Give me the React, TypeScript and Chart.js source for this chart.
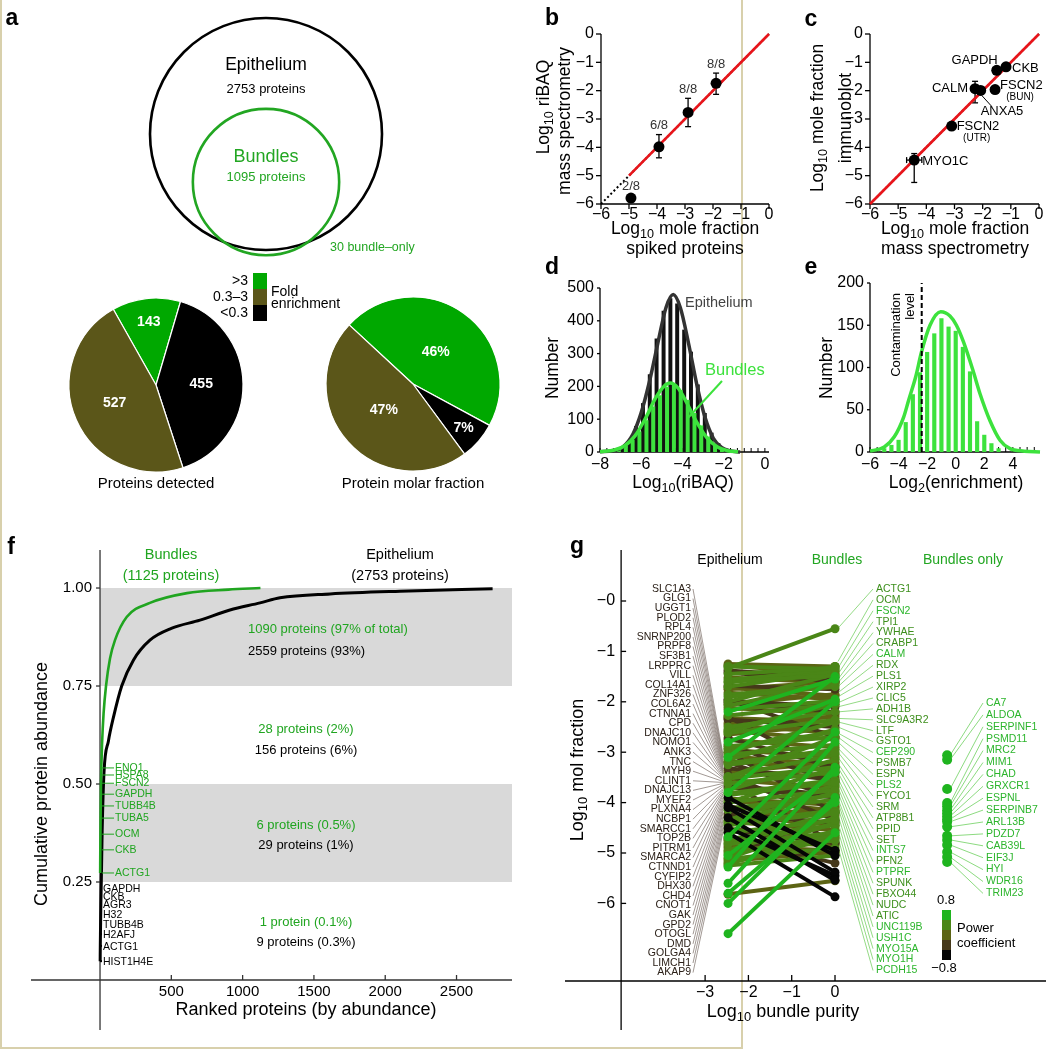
import React, { useEffect, useRef } from "react";
import { Chart, registerables } from "chart.js";
Chart.register(...registerables);

const W = 1046;
const H = 1050;
const FF = '"Liberation Sans", Arial, Helvetica, sans-serif';
const MINUS = "\u2212";

/* ======================= DATA ======================= */
// a — Venn
const vennNames = ["Epithelium", "Bundles"];
const vennCounts = [2753, 1095];
const vennY = [0, -0.414];
const bundleOnly = 30;
// a — pies
const foldCats = [">3", "0.3\u20133", "<0.3"];
const detectedCounts = [143, 527, 455];
const molarPct = [46, 47, 7];
// b
const bX = [-4.93, -3.93, -2.89, -1.89];
const bY = [-5.79, -3.98, -2.77, -1.74];
const bErrHi = [0, 0.43, 0.5, 0.36];
const bErrLo = [0, 0.39, 0.5, 0.39];
const bLabels = ["2/8", "6/8", "8/8", "8/8"];
const bFit = [-5, 0];
const identity = [-6, 0];
// c
const cNames = ["GAPDH", "CKB", "CALM", "ANXA5", "FSCN2", "FSCN2", "MYO1C"];
const cSub = ["", "", "", "", "(BUN)", "(UTR)", ""];
const cX = [-1.5, -1.17, -2.27, -2.07, -1.56, -3.1, -4.43];
const cY = [-1.28, -1.16, -1.93, -1.99, -1.96, -3.25, -4.45];
const cYErrHi = [0, 0, 0.26, 0, 0, 0, 0.23];
const cYErrLo = [0, 0, 0.5, 0, 0, 0, 0.79];
const cXErr = [0.14, 0, 0, 0, 0, 0, 0.27];
// d — histogram bins (log10 riBAQ), black = epithelium, green = bundles
const dBinX = [-7.5, -7.17, -6.83, -6.5, -6.17, -5.83, -5.5, -5.17, -4.83, -4.5, -4.17, -3.83, -3.5, -3.17, -2.83, -2.5, -2.17, -1.83, -1.5];
const dEpiCount = [2, 5, 12, 33, 78, 148, 236, 345, 430, 468, 452, 372, 305, 205, 118, 58, 26, 9, 3];
const dBunCount = [3, 8, 18, 36, 62, 96, 138, 172, 198, 206, 188, 158, 118, 80, 46, 24, 12, 5, 2];
const dEpiCurveX = [-8, -7.4, -6.9, -6.4, -6.0, -5.6, -5.2, -4.8, -4.45, -4.1, -3.7, -3.3, -2.9, -2.5, -2.1, -1.7, -1.2];
const dEpiCurveY = [1, 4, 15, 55, 120, 215, 330, 440, 480, 440, 330, 205, 105, 42, 14, 4, 0];
const dBunCurveX = [-8, -7.3, -6.8, -6.3, -5.8, -5.3, -4.9, -4.6, -4.2, -3.8, -3.3, -2.8, -2.3, -1.8, -1.3];
const dBunCurveY = [1, 6, 19, 49, 102, 165, 200, 210, 194, 151, 90, 42, 15, 4, 1];
// e
const eBinX = [-5, -4.5, -4, -3.5, -3, -2.5, -2, -1.5, -1, -0.5, 0, 0.5, 1, 1.5, 2, 2.5, 3];
const eCount = [4, 8, 14, 35, 68, 94, 118, 140, 158, 148, 143, 124, 95, 36, 20, 10, 4];
const eCurveX = [-6, -5, -4.3, -3.65, -3.3, -2.8, -2.4, -1.8, -1.05, -0.4, 0.05, 0.55, 1.2, 1.7, 2.4, 3.1, 3.8, 4.8, 5.9];
const eCurveY = [1, 6, 18, 41, 61, 89, 118, 150, 166, 161, 150, 130, 97, 69, 37, 14, 4, 1, 0];
const eContamination = -2.38;
// f
const fBunRank = [1, 2, 3, 4, 5, 6, 7, 8, 9, 14, 25, 42, 70, 105, 187, 350, 610, 900, 1125];
const fBunCum = [0.273, 0.332, 0.372, 0.413, 0.444, 0.474, 0.502, 0.523, 0.541, 0.6, 0.68, 0.75, 0.82, 0.867, 0.926, 0.962, 0.987, 0.996, 1.0];
const fEpiRank = [1, 2, 3, 4, 5, 6, 7, 8, 9, 15, 28, 59, 94, 152, 234, 350, 500, 701, 911, 1122, 1262, 1613, 2104, 2753];
const fEpiCum = [0.048, 0.087, 0.117, 0.143, 0.168, 0.194, 0.214, 0.235, 0.25, 0.38, 0.53, 0.61, 0.67, 0.75, 0.816, 0.867, 0.897, 0.918, 0.944, 0.962, 0.975, 0.985, 0.992, 0.998];
const fBunTop = ["ENO1", "HSPA8", "FSCN2", "GAPDH", "TUBB4B", "TUBA5", "OCM", "CKB", "ACTG1"];
const fBunTopCum = [0.541, 0.523, 0.502, 0.474, 0.444, 0.413, 0.372, 0.332, 0.273];
const fEpiTop = ["GAPDH", "CKB", "AGR3", "H32", "TUBB4B", "H2AFJ", "ACTG1", "HIST1H4E"];
const fEpiTopCum = [0.235, 0.214, 0.194, 0.168, 0.143, 0.117, 0.087, 0.048];
const fBands = [[0.75, 1.0], [0.25, 0.5]];
const fStatsBun = ["1090 proteins (97% of total)", "28 proteins (2%)", "6 proteins (0.5%)", "1 protein (0.1%)"];
const fStatsEpi = ["2559 proteins (93%)", "156 proteins (6%)", "29 proteins (1%)", "9 proteins (0.3%)"];
const fYTicks = [0.25, 0.5, 0.75, 1.0];
const fXTicks = [500, 1000, 1500, 2000, 2500];
// g
const gEpiX = -2.47;
const gBunX = 0;
const gOnlyX = 2.59;
const gEpi = [-1.25, -1.33, -1.38, -1.45, -1.52, -1.6, -1.68, -1.75, -1.82, -1.9,
  -1.98, -2.05, -2.12, -2.2, -2.27, -2.35, -2.42, -2.5, -2.58, -2.65,
  -2.72, -2.8, -2.88, -2.95, -3.05, -3.1, -3.18, -3.25, -3.32, -3.4,
  -3.48, -3.55, -3.62, -3.7, -3.8, -3.85, -3.92, -4.0, -4.08, -4.15,
  -4.22, -4.3, -4.38, -4.45, -4.52, -4.6, -4.68, -4.75, -4.82, -4.9,
  -4.98, -5.05, -5.12, -5.2, -5.28, -5.6, -5.8, -5.82, -6.0, -6.6,
  -4.6, -4.3, -4.1, -3.9, -3.6, -3.0, -2.3, -1.95, -1.3, -1.7,
  -2.6, -3.0, -3.5, -4.0, -4.4, -4.8, -2.0, -5.1, -3.2, -4.7,
  -1.28, -1.42, -1.56, -1.72, -1.86, -2.02, -2.16, -2.32, -2.46, -2.62,
  -2.76, -2.92, -3.08, -3.22, -3.36, -3.52, -3.66, -3.82, -3.96, -4.12,
  -4.26, -4.42, -4.56, -4.72, -4.86, -5.02, -5.16, -5.25, -1.62, -2.08,
  -2.55, -3.15, -3.75, -4.35, -4.95, -2.85, -3.45, -4.05, -5.22, -4.5];
const gBun = [-1.3, -0.55, -1.52, -1.33, -1.62, -1.48, -1.75, -1.6, -1.95, -1.7,
  -2.1, -1.85, -2.25, -1.55, -2.05, -2.5, -2.3, -2.2, -2.75, -2.45,
  -3.3, -1.95, -2.7, -3.1, -2.85, -1.5, -3.35, -3.0, -3.55, -3.2,
  -3.05, -3.7, -3.4, -3.9, -2.0, -3.6, -4.05, -3.75, -4.25, -3.95,
  -4.4, -4.1, -4.55, -4.2, -4.7, -4.35, -2.6, -4.85, -4.6, -5.0,
  -4.75, -3.4, -4.9, -4.7, -2.8, -3.3, -4.0, -5.55, -3.9, -4.6,
  -5.87, -5.54, -5.38, -5.05, -4.8, -4.2, -3.4, -2.7, -1.35, -1.4,
  -2.0, -2.4, -2.7, -3.3, -3.8, -4.2, -1.45, -4.4, -3.9, -5.2,
  -1.45, -1.6, -1.38, -1.88, -1.66, -2.2, -1.98, -2.4, -2.62, -2.36,
  -2.9, -2.6, -3.25, -2.95, -3.5, -3.3, -3.85, -3.55, -4.15, -3.85,
  -4.45, -4.15, -4.8, -4.45, -4.95, -4.65, -4.98, -5.05, -1.3, -1.62,
  -2.05, -2.55, -3.15, -3.65, -4.3, -3.6, -4.35, -4.95, -4.55, -5.45];
const gPow = [0, 0.4, -0.4, 0.4, 0, 0.4, -0.4, 0, 0, 0.4,
  -0.4, 0, 0, 0.8, 0.4, -0.4, 0, 0.4, 0, 0,
  -0.4, 0.8, 0.4, 0, 0.4, 0.8, 0, 0.4, -0.4, 0,
  0.4, 0, 0.4, -0.4, 0.8, 0.4, 0, 0.4, 0, 0.4,
  -0.4, 0, 0, 0.4, 0, 0.4, 0.8, 0, 0.4, 0,
  0.4, 0.8, 0.4, 0.4, 0.8, 0.8, 0.8, 0, 0.8, 0.8,
  -0.8, -0.8, -0.8, -0.8, -0.4, -0.4, -0.4, -0.4, 0.4, 0.4,
  0.4, 0.4, 0.4, 0.4, 0.4, 0.4, 0.4, 0.4, -0.4, -0.4,
  0, -0.4, 0.4, 0, 0.4, -0.4, 0.4, 0, 0, 0.4,
  0, 0.4, 0, 0.4, 0, 0.4, -0.4, 0.4, 0, 0.4,
  0, 0.4, -0.4, 0.4, 0, 0.4, 0, 0.4, 0.4, 0.4,
  0.4, 0.4, 0.4, 0.4, 0.4, -0.4, -0.4, -0.8, 0.4, -0.8];
const gOnly = [-3.06, -3.15, -3.73, -4.01, -4.07, -4.15, -4.21, -4.27, -4.33, -4.38, -4.48, -4.66, -4.74, -4.84, -4.98, -5.08, -5.18];
const gOnlyNames = ["CA7", "ALDOA", "SERPINF1", "PSMD11", "MRC2", "MIM1", "CHAD", "GRXCR1", "ESPNL", "SERPINB7", "ARL13B", "PDZD7", "CAB39L", "EIF3J", "HYI", "WDR16", "TRIM23"];
const gEpiNames = ["SLC1A3", "GLG1", "UGGT1", "PLOD2", "RPL4", "SNRNP200", "PRPF8", "SF3B1", "LRPPRC", "VILL", "COL14A1", "ZNF326", "COL6A2", "CTNNA1", "CPD", "DNAJC10", "NOMO1", "ANK3", "TNC", "MYH9", "CLINT1", "DNAJC13", "MYEF2", "PLXNA4", "NCBP1", "SMARCC1", "TOP2B", "PITRM1", "SMARCA2", "CTNND1", "CYFIP2", "DHX30", "CHD4", "CNOT1", "GAK", "GPD2", "OTOGL", "DMD", "GOLGA4", "LIMCH1", "AKAP9"];
const gEpiTarget = [-3.05, -3.1, -3.12, -3.15, -3.2, -3.22, -3.25, -3.28, -3.3, -3.33, -3.36, -3.38, -3.4, -3.42, -3.45, -3.48, -3.5, -3.52, -3.55, -3.58, -3.6, -3.62, -3.65, -3.68, -3.72, -3.75, -3.78, -3.82, -3.85, -3.9, -3.95, -4.0, -4.05, -4.1, -4.15, -4.2, -4.28, -4.35, -4.42, -4.5, -4.58];
const gBunNames = ["ACTG1", "OCM", "FSCN2", "TPI1", "YWHAE", "CRABP1", "CALM", "RDX", "PLS1", "XIRP2", "CLIC5", "ADH1B", "SLC9A3R2", "LTF", "GSTO1", "CEP290", "PSMB7", "ESPN", "PLS2", "FYCO1", "SRM", "ATP8B1", "PPID", "SET", "INTS7", "PFN2", "PTPRF", "SPUNK", "FBXO44", "NUDC", "ATIC", "UNC119B", "USH1C", "MYO15A", "MYO1H", "PCDH15"];
const gBunNamePow = [0.4, 0.4, 0.8, 0.4, 0.4, 0.4, 0.8, 0.4, 0.4, 0.4, 0.4, 0.4, 0.4, 0.4, 0.4, 0.8, 0.4, 0.4, 0.8, 0.4, 0.4, 0.4, 0.4, 0.4, 0.8, 0.4, 0.8, 0.4, 0.4, 0.4, 0.4, 0.8, 0.8, 0.8, 0.8, 0.8];
const gBunTarget = [-0.54, -1.2, -1.33, -1.45, -1.55, -1.62, -1.7, -1.82, -1.9, -2.02, -2.1, -2.2, -2.33, -2.4, -2.5, -2.62, -2.7, -2.8, -2.92, -3.0, -3.1, -3.22, -3.3, -3.4, -3.52, -3.6, -3.7, -3.8, -3.92, -4.0, -4.1, -4.25, -4.4, -4.55, -4.7, -4.88];
const gYTicks = [0, -1, -2, -3, -4, -5, -6];
const gYLabels = [MINUS + "0", MINUS + "1", MINUS + "2", MINUS + "3", MINUS + "4", MINUS + "5", MINUS + "6"];
const gXTicks = [-3, -2, -1, 0];
const powLevels = [0.8, 0.4, 0, -0.4, -0.8];

/* ======================= STYLE ======================= */
const C_GREEN = "#22a622";
const C_PIE = ["#00a800", "#5b5619", "#000000"];
const C_RED = "#e8141a";
const C_LIME = "#3de23d";
const C_FGREEN = "#20a520";
const POW_COL: Record<string, string> = { "0.8": "#1fb41f", "0.4": "#4a8617", "0": "#5c6414", "-0.4": "#45381a", "-0.8": "#050505" };
const powCol = (p: number) => POW_COL[String(p)];

/* ======================= HELPERS ======================= */
const fm = (v: number) => (v < 0 ? MINUS + Math.abs(v) : String(v));

function parts(s: string): [string, boolean][] {
  const out: [string, boolean][] = [];
  const re = /_\{([^}]*)\}/g;
  let last = 0;
  let m: RegExpExecArray | null;
  while ((m = re.exec(s))) {
    if (m.index > last) out.push([s.slice(last, m.index), false]);
    out.push([m[1], true]);
    last = re.lastIndex;
  }
  if (last < s.length) out.push([s.slice(last), false]);
  return out;
}

function tx(ctx: CanvasRenderingContext2D, s: string, x: number, y: number, size = 14, o: any = {}) {
  const ps = parts(s);
  ctx.save();
  ctx.translate(x, y);
  if (o.rot) ctx.rotate(o.rot);
  ctx.fillStyle = o.color || "#000";
  ctx.textBaseline = "middle";
  ctx.textAlign = "left";
  const wt = o.bold ? "bold " : "";
  const fonts = ps.map((p) => `${wt}${p[1] ? size * 0.72 : size}px ${FF}`);
  const widths = ps.map((p, i) => {
    ctx.font = fonts[i];
    return ctx.measureText(p[0]).width;
  });
  const total = widths.reduce((a, b) => a + b, 0);
  let cx = o.align === "center" ? -total / 2 : o.align === "right" ? -total : 0;
  ps.forEach((p, i) => {
    ctx.font = fonts[i];
    ctx.fillText(p[0], cx, p[1] ? size * 0.32 : 0);
    cx += widths[i];
  });
  ctx.restore();
}

function ln(ctx: CanvasRenderingContext2D, p: number[], color = "#000", w = 1.3, dash: number[] = []) {
  ctx.save();
  ctx.strokeStyle = color;
  ctx.lineWidth = w;
  ctx.setLineDash(dash);
  ctx.beginPath();
  ctx.moveTo(p[0], p[1]);
  for (let i = 2; i < p.length; i += 2) ctx.lineTo(p[i], p[i + 1]);
  ctx.stroke();
  ctx.restore();
}

const PX = (ch: any, v: number) => ch.scales.x.getPixelForValue(v);
const PY = (ch: any, v: number) => ch.scales.y.getPixelForValue(v);
const pts = (xs: number[], ys: number[]) => xs.map((x, i) => ({ x, y: ys[i] }));

function axY(ctx: any, ch: any, at: number, from: number, to: number, ticks: number[], o: any = {}) {
  const x = PX(ch, at);
  const col = o.color || "#000";
  const lw = o.lw || 1.3;
  ln(ctx, [x, PY(ch, from), x, PY(ch, to)], col, lw);
  ticks.forEach((t, i) => {
    const y = PY(ch, t);
    ln(ctx, [x, y, x + (o.dir ?? -1) * (o.len ?? 5), y], col, lw);
    const lab = o.labels ? o.labels[i] : fm(t);
    tx(ctx, lab, x - (o.gap ?? 8), y, o.size ?? 16, { align: "right" });
  });
}

function axX(ctx: any, ch: any, at: number, from: number, to: number, ticks: number[], o: any = {}) {
  const y = PY(ch, at);
  const col = o.color || "#000";
  const lw = o.lw || 1.3;
  ln(ctx, [PX(ch, from), y, PX(ch, to), y], col, lw);
  (o.minor || []).forEach((t: number) => {
    const x = PX(ch, t);
    ln(ctx, [x, y, x, y - (o.minorLen ?? 4)], col, 1);
  });
  ticks.forEach((t, i) => {
    const x = PX(ch, t);
    ln(ctx, [x, y, x, y + (o.dir ?? 1) * (o.len ?? 5)], col, lw);
    const lab = o.labels ? o.labels[i] : fm(t);
    tx(ctx, lab, x, y + (o.gap ?? 12), o.size ?? 16, { align: "center" });
  });
}

function base(l: number, t: number, r: number, b: number, scales: any = {}) {
  return {
    responsive: false,
    maintainAspectRatio: false,
    animation: false,
    events: [],
    layout: { autoPadding: false, padding: { left: l, top: t, right: W - r, bottom: H - b } },
    plugins: { legend: { display: false }, tooltip: { enabled: false } },
    scales,
  };
}
const lin = (min: number, max: number) => ({ type: "linear", display: false, min, max, offset: false });

function Layer({ cfg }: { cfg: () => any }) {
  const ref = useRef<HTMLCanvasElement | null>(null);
  useEffect(() => {
    const chart = new Chart(ref.current as HTMLCanvasElement, cfg());
    return () => chart.destroy();
  }, []);
  return (
    <canvas
      ref={ref}
      width={W}
      height={H}
      style={{ position: "absolute", left: 0, top: 0, width: W, height: H, pointerEvents: "none" }}
    />
  );
}

/* ======================= PANEL a ======================= */
function vennCfg() {
  const R0 = 116;
  return {
    type: "bubble",
    data: {
      datasets: [
        {
          data: vennCounts.map((c, i) => ({ x: 0, y: vennY[i], r: R0 * Math.sqrt(c / vennCounts[0]) })),
          borderColor: ["#000000", C_GREEN],
          backgroundColor: "rgba(0,0,0,0)",
          borderWidth: 2.6,
          clip: false,
        },
      ],
    },
    options: base(150, 18, 382, 250, { x: lin(-1, 1), y: lin(-1, 1) }),
    plugins: [
      {
        id: "venn",
        afterDraw(ch: any) {
          const c = ch.ctx;
          const x = PX(ch, 0);
          tx(c, "a", 12, 19, 23, { bold: true, align: "center" });
          tx(c, vennNames[0], x, 65, 17.5, { align: "center" });
          tx(c, `${vennCounts[0]} proteins`, x, 89, 13, { align: "center" });
          tx(c, vennNames[1], x, 157, 18, { align: "center", color: C_GREEN });
          tx(c, `${vennCounts[1]} proteins`, x, 177, 13, { align: "center", color: C_GREEN });
          tx(c, `${bundleOnly} bundle\u2013only`, 330, 248, 12.5, { color: C_GREEN });
        },
      },
    ],
  };
}

const pieOrder = [0, 2, 1];
function pieCfg(vals: number[], labels: string[], cx: number, cy: number, rot: number, frac: number[], title: string, legend: boolean) {
  return {
    type: "pie",
    data: {
      labels: pieOrder.map((i) => foldCats[i]),
      datasets: [
        {
          data: pieOrder.map((i) => vals[i]),
          backgroundColor: pieOrder.map((i) => C_PIE[i]),
          borderColor: "#ffffff",
          borderWidth: 1.2,
          hoverOffset: 0,
        },
      ],
    },
    options: { ...base(cx - 100, cy - 100, cx + 100, cy + 100), rotation: rot, radius: 87 },
    plugins: [
      {
        id: "pie",
        afterDraw(ch: any) {
          const c = ch.ctx;
          const arcs = ch.getDatasetMeta(0).data;
          arcs.forEach((a: any, k: number) => {
            const m = (a.startAngle + a.endAngle) / 2;
            const r = a.outerRadius * frac[k];
            tx(c, labels[pieOrder[k]], a.x + Math.cos(m) * r, a.y + Math.sin(m) * r, 14, { bold: true, color: "#fff", align: "center" });
          });
          tx(c, title, cx, 484, 15, { align: "center" });
          if (legend) {
            const ys = [273, 289, 305];
            foldCats.forEach((cat, i) => {
              c.fillStyle = C_PIE[i];
              c.fillRect(253, ys[i], 14, 16);
              tx(c, cat, 248, ys[i] + 8, 14, { align: "right" });
            });
            tx(c, "Fold", 271, 292, 14);
            tx(c, "enrichment", 271, 304, 14);
          }
        },
      },
    ],
  };
}

/* ======================= PANEL b / c ======================= */
function errBars(ctx: any, ch: any, xs: number[], ys: number[], hi: number[], lo: number[], xe: number[] | null) {
  xs.forEach((x, i) => {
    const px = PX(ch, x);
    const py = PY(ch, ys[i]);
    if (hi[i] || lo[i]) {
      const t = PY(ch, ys[i] + hi[i]);
      const b = PY(ch, ys[i] - lo[i]);
      ln(ctx, [px, t, px, b], "#000", 1.3);
      ln(ctx, [px - 3, t, px + 3, t], "#000", 1.3);
      ln(ctx, [px - 3, b, px + 3, b], "#000", 1.3);
    }
    if (xe && xe[i]) {
      const l = PX(ch, x - xe[i]);
      const r = PX(ch, x + xe[i]);
      ln(ctx, [l, py, r, py], "#000", 1.3);
      ln(ctx, [l, py - 3, l, py + 3], "#000", 1.3);
      ln(ctx, [r, py - 3, r, py + 3], "#000", 1.3);
    }
  });
}

const sixTicks = [0, -1, -2, -3, -4, -5, -6];

function scatterFitCfg(area: number[], xs: number[], ys: number[], fit: number[], draw: (ch: any) => void, errs: (ch: any) => void) {
  return {
    type: "scatter",
    data: {
      datasets: [
        { data: pts(xs, ys), pointRadius: 5.5, backgroundColor: "#000", borderWidth: 0, clip: false },
        { data: pts(fit, fit), showLine: true, borderColor: C_RED, borderWidth: 2.6, pointRadius: 0, clip: false },
        { data: pts(identity, identity), showLine: true, borderColor: "#000", borderWidth: 2, borderDash: [2, 2.5], pointRadius: 0, clip: false },
      ],
    },
    options: base(area[0], area[1], area[2], area[3], { x: lin(-6, 0), y: lin(-6, 0) }),
    plugins: [
      {
        id: "sf",
        beforeDatasetsDraw(ch: any) {
          const c = ch.ctx;
          axY(c, ch, -6, -6, 0, sixTicks, { gap: 7, size: 16 });
          axX(c, ch, -6, -6, 0, sixTicks, { gap: 11, size: 16 });
          errs(ch);
        },
        afterDraw: draw,
      },
    ],
  };
}

function bCfg() {
  return scatterFitCfg(
    [601, 34, 769, 204],
    bX,
    bY,
    bFit,
    (ch: any) => {
      const c = ch.ctx;
      tx(c, "b", 552, 19, 23, { bold: true, align: "center" });
      bX.forEach((x, i) => {
        tx(c, bLabels[i], PX(ch, x), PY(ch, bY[i] + bErrHi[i]) - (bErrHi[i] ? 9 : 12), 13, { align: "center", color: "#333" });
      });
      tx(c, "Log_{10} riBAQ", 544, 107, 17.5, { rot: -Math.PI / 2, align: "center" });
      tx(c, "mass spectrometry", 565, 121, 17.5, { rot: -Math.PI / 2, align: "center" });
      tx(c, "Log_{10} mole fraction", 685, 229, 17.5, { align: "center" });
      tx(c, "spiked proteins", 685, 249, 17.5, { align: "center" });
    },
    (ch: any) => errBars(ch.ctx, ch, bX, bY, bErrHi, bErrLo, null)
  );
}

function cCfg() {
  const off: number[][] = [[1, -10, 1], [6, 1.5, 0], [-7, 0, 1], [0, 21, 0], [5, -4, 0], [5, 0, 0], [8, 1.5, 0]];
  return scatterFitCfg(
    [870, 34, 1039, 204],
    cX,
    cY,
    identity,
    (ch: any) => {
      const c = ch.ctx;
      tx(c, "c", 811, 20, 23, { bold: true, align: "center" });
      cNames.forEach((n, i) => {
        const x = PX(ch, cX[i]);
        const y = PY(ch, cY[i]);
        const [dx, dy, right] = off[i];
        tx(c, n, x + dx, y + dy, 13, { align: right ? "right" : "left" });
        if (cSub[i]) tx(c, cSub[i], x + dx + 20, y + dy + 12, 10, { align: "center" });
        if (n === "ANXA5") ln(c, [x + 1, y + 5, x + 11, y + 16], "#000", 1);
      });
      tx(c, "Log_{10} mole fraction", 818, 118, 17.5, { rot: -Math.PI / 2, align: "center" });
      tx(c, "immunoblot", 846, 118, 17.5, { rot: -Math.PI / 2, align: "center" });
      tx(c, "Log_{10} mole fraction", 955, 229, 17.5, { align: "center" });
      tx(c, "mass spectrometry", 955, 249, 17.5, { align: "center" });
    },
    (ch: any) => errBars(ch.ctx, ch, cX, cY, cYErrHi, cYErrLo, cXErr)
  );
}

/* ======================= PANEL d ======================= */
function dCfg() {
  const half = 0.085;
  return {
    type: "bar",
    data: {
      datasets: [
        { type: "line", data: pts(dBunCurveX, dBunCurveY), borderColor: C_LIME, borderWidth: 3.5, pointRadius: 0, cubicInterpolationMode: "monotone", clip: false },
        { type: "line", data: pts(dEpiCurveX, dEpiCurveY), borderColor: "#333333", borderWidth: 3.5, pointRadius: 0, cubicInterpolationMode: "monotone", clip: false },
        { type: "bar", data: pts(dBinX.map((x) => x + half), dBunCount), backgroundColor: C_LIME, barThickness: 3.3, grouped: false },
        { type: "bar", data: pts(dBinX.map((x) => x - half), dEpiCount), backgroundColor: "#111111", barThickness: 3.3, grouped: false },
      ],
    },
    options: base(600, 288, 769, 452, { x: lin(-8, 0.2), y: lin(0, 500) }),
    plugins: [
      {
        id: "d",
        beforeDatasetsDraw(ch: any) {
          const c = ch.ctx;
          axY(c, ch, -8, 0, 500, [0, 100, 200, 300, 400, 500], { gap: 6, len: 3, size: 16 });
          const minor: number[] = [];
          for (let k = 0; k <= 24; k++) minor.push(-8 + k / 3);
          axX(c, ch, 0, -8, 0.2, [-8, -6, -4, -2, 0], { gap: 13, size: 16, len: 0, minor, minorLen: 4 });
        },
        afterDraw(ch: any) {
          const c = ch.ctx;
          tx(c, "d", 552, 268, 23, { bold: true, align: "center" });
          tx(c, "Epithelium", 685, 303, 14.5, { color: "#444" });
          tx(c, "Bundles", 705, 370, 16.5, { color: C_LIME });
          ln(c, [722, 381, 688, 418], C_LIME, 2);
          tx(c, "Number", 553, 368, 17.5, { rot: -Math.PI / 2, align: "center" });
          tx(c, "Log_{10}(riBAQ)", 683, 483, 17.5, { align: "center" });
        },
      },
    ],
  };
}

/* ======================= PANEL e ======================= */
function eCfg() {
  return {
    type: "bar",
    data: {
      datasets: [
        { type: "line", data: pts(eCurveX, eCurveY), borderColor: C_LIME, borderWidth: 3.5, pointRadius: 0, cubicInterpolationMode: "monotone", clip: false },
        { type: "bar", data: pts(eBinX, eCount), backgroundColor: C_LIME, barThickness: 3.5, grouped: false },
      ],
    },
    options: base(870, 283, 1040, 452, { x: lin(-6, 5.9), y: lin(0, 200) }),
    plugins: [
      {
        id: "e",
        beforeDatasetsDraw(ch: any) {
          const c = ch.ctx;
          axY(c, ch, -6, 0, 200, [0, 50, 100, 150, 200], { gap: 6, len: 3, size: 16 });
          const minor: number[] = [];
          for (let k = 0; k <= 23; k++) minor.push(-6 + k / 2);
          axX(c, ch, 0, -6, 5.9, [-6, -4, -2, 0, 2, 4], { gap: 13, size: 16, len: 0, minor, minorLen: 5 });
        },
        afterDraw(ch: any) {
          const c = ch.ctx;
          const x = PX(ch, eContamination);
          ln(c, [x, PY(ch, 0), x, PY(ch, 200)], "#000", 2, [5, 3]);
          tx(c, "e", 811, 268, 23, { bold: true, align: "center" });
          tx(c, "Contamination", 896, 293, 13, { rot: -Math.PI / 2, align: "right" });
          tx(c, "level", 910, 293, 13, { rot: -Math.PI / 2, align: "right" });
          tx(c, "Number", 827, 368, 17.5, { rot: -Math.PI / 2, align: "center" });
          tx(c, "Log_{2}(enrichment)", 956, 483, 17.5, { align: "center" });
        },
      },
    ],
  };
}

/* ======================= PANEL f ======================= */
function fCfg() {
  return {
    type: "scatter",
    data: {
      datasets: [
        { data: pts(fBunRank, fBunCum), showLine: true, borderColor: C_FGREEN, borderWidth: 2.6, pointRadius: 0, cubicInterpolationMode: "monotone", clip: false },
        { data: pts(fEpiRank, fEpiCum), showLine: true, borderColor: "#000", borderWidth: 3, pointRadius: 0, cubicInterpolationMode: "monotone", clip: false },
      ],
    },
    options: base(31, 550, 512, 1030, { x: lin(-484, 2889), y: lin(-0.1276, 1.097) }),
    plugins: [
      {
        id: "f",
        beforeDatasetsDraw(ch: any) {
          const c = ch.ctx;
          c.fillStyle = "#d9d9d9";
          fBands.forEach(([lo, hi]) => {
            const x0 = PX(ch, 0);
            c.fillRect(x0, PY(ch, hi), ch.chartArea.right - x0, PY(ch, lo) - PY(ch, hi));
          });
          axY(c, ch, 0, -0.1276, 1.097, fYTicks, { labels: fYTicks.map((v) => v.toFixed(2)), gap: 8, len: 4, size: 15, color: "#333" });
          axX(c, ch, 0, -484, 2889, fXTicks, { gap: 12, size: 15, len: 5, dir: -1, color: "#333" });
        },
        afterDraw(ch: any) {
          const c = ch.ctx;
          const x0 = PX(ch, 0);
          tx(c, "f", 11, 548, 23, { bold: true, align: "center" });
          fBunTop.forEach((n, i) => {
            const y = PY(ch, fBunTopCum[i]);
            ln(c, [x0 + 2, y, x0 + 14, y], C_FGREEN, 1);
            tx(c, n, x0 + 15, y, 10.5, { color: C_FGREEN });
          });
          fEpiTop.forEach((n, i) => {
            const y = PY(ch, fEpiTopCum[i]);
            c.fillStyle = "#000";
            c.fillRect(x0, y - 1, 2, 2);
            tx(c, n, x0 + 3, y + 1, 10.5);
          });
          tx(c, "Bundles", 171, 555, 14.5, { align: "center", color: C_FGREEN });
          tx(c, "(1125 proteins)", 171, 576, 14.5, { align: "center", color: C_FGREEN });
          tx(c, "Epithelium", 400, 555, 14.5, { align: "center" });
          tx(c, "(2753 proteins)", 400, 576, 14.5, { align: "center" });
          const ys = [[629, 651], [729, 750], [825, 845], [922, 942]];
          fStatsBun.forEach((s, i) => {
            if (i === 0) {
              tx(c, s, 248, ys[i][0], 13, { color: C_FGREEN });
              tx(c, fStatsEpi[i], 248, ys[i][1], 13);
            } else {
              tx(c, s, 306, ys[i][0], 13, { align: "center", color: C_FGREEN });
              tx(c, fStatsEpi[i], 306, ys[i][1], 13, { align: "center" });
            }
          });
          tx(c, "Cumulative protein abundance", 42, 784, 18, { rot: -Math.PI / 2, align: "center" });
          tx(c, "Ranked proteins (by abundance)", 306, 1010, 18, { align: "center" });
        },
      },
    ],
  };
}

/* ======================= PANEL g ======================= */
function gCfg() {
  const drawOrder = [0.8, -0.8, 0.4, -0.4, 0];
  const idx: number[] = [];
  drawOrder.forEach((p) => gPow.forEach((q, i) => q === p && idx.push(i)));
  const lineSets = idx.map((i) => {
    const col = powCol(gPow[i]);
    return {
      data: [{ x: gEpiX, y: gEpi[i] }, { x: gBunX, y: gBun[i] }],
      showLine: true,
      borderColor: col,
      borderWidth: 4,
      pointRadius: 4.5,
      pointBackgroundColor: col,
      pointBorderWidth: 0,
      clip: false,
    };
  });
  return {
    type: "scatter",
    data: {
      datasets: [
        { data: gOnly.map((y) => ({ x: gOnlyX, y })), pointRadius: 5, pointBackgroundColor: POW_COL["0.8"], pointBorderWidth: 0, clip: false },
        ...lineSets,
      ],
    },
    options: base(565, 550, 1046, 1030, { x: lin(-6.236, 4.873), y: lin(-8.512, 1.012) }),
    plugins: [
      {
        id: "g",
        beforeDatasetsDraw(ch: any) {
          const c = ch.ctx;
          axY(c, ch, -4.94, -8.512, 1.012, gYTicks, { labels: gYLabels, gap: 6, len: 5, dir: 1, size: 16 });
          axX(c, ch, -7.54, -6.236, 4.873, gXTicks, { gap: 12, size: 16, len: 6, dir: -1 });
          gEpiNames.forEach((n, i) => {
            const y = 589 + i * 9.59;
            ln(c, [693, y, PX(ch, gEpiX) - 5, PY(ch, gEpiTarget[i])], "#8a7f78", 0.8);
          });
          gBunNames.forEach((n, i) => {
            const y = 589 + i * 10.9;
            ln(c, [873, y, PX(ch, gBunX) + 3, PY(ch, gBunTarget[i])], "#78d066", 0.8);
          });
          gOnlyNames.forEach((n, i) => {
            const y = 703 + i * 11.9;
            ln(c, [983, y, PX(ch, gOnlyX) + 3, PY(ch, gOnly[i])], "#6fd060", 0.8);
          });
        },
        afterDraw(ch: any) {
          const c = ch.ctx;
          tx(c, "g", 577, 547, 23, { bold: true, align: "center" });
          tx(c, "Epithelium", 730, 560, 14, { align: "center" });
          tx(c, "Bundles", 837, 560, 14, { align: "center", color: C_GREEN });
          tx(c, "Bundles only", 963, 560, 14, { align: "center", color: C_GREEN });
          gEpiNames.forEach((n, i) => tx(c, n, 691, 589 + i * 9.59, 10.5, { align: "right", color: "#2b2018" }));
          gBunNames.forEach((n, i) => tx(c, n, 876, 589 + i * 10.9, 10.5, { color: gBunNamePow[i] === 0.8 ? "#2cb52c" : "#3d8f1c" }));
          gOnlyNames.forEach((n, i) => tx(c, n, 986, 703 + i * 11.9, 10.5, { color: "#2cb52c" }));
          powLevels.forEach((p, i) => {
            c.fillStyle = powCol(p);
            c.fillRect(942, 910 + i * 10, 9, 10);
          });
          tx(c, "0.8", 946, 900, 13, { align: "center" });
          tx(c, MINUS + "0.8", 944, 968, 13, { align: "center" });
          tx(c, "Power", 957, 928, 13);
          tx(c, "coefficient", 957, 943, 13);
          tx(c, "Log_{10} mol fraction", 578, 770, 18, { rot: -Math.PI / 2, align: "center" });
          tx(c, "Log_{10} bundle purity", 783, 1012, 18, { align: "center" });
        },
      },
    ],
  };
}

/* ======================= APP ======================= */
export default function App() {
  const tan = "#d8d0ac";
  return (
    <div style={{ position: "absolute", left: 0, top: 0, width: W, height: H, background: "#fff", overflow: "hidden" }}>
      <div style={{ position: "absolute", left: 0, top: 0, width: 2, height: 1049, background: tan }} />
      <div style={{ position: "absolute", left: 0, top: 1047, width: 743, height: 2, background: tan }} />
      <div style={{ position: "absolute", left: 741, top: 0, width: 1.5, height: 1049, background: tan }} />
      <Layer cfg={vennCfg} />
      <Layer cfg={() => pieCfg(detectedCounts, detectedCounts.map(String), 156, 385, -29.4, [0.73, 0.52, 0.52], "Proteins detected", true)} />
      <Layer cfg={() => pieCfg(molarPct, molarPct.map((v) => v + "%"), 413, 384, -47.2, [0.45, 0.77, 0.45], "Protein molar fraction", false)} />
      <Layer cfg={bCfg} />
      <Layer cfg={cCfg} />
      <Layer cfg={dCfg} />
      <Layer cfg={eCfg} />
      <Layer cfg={fCfg} />
      <Layer cfg={gCfg} />
    </div>
  );
}
